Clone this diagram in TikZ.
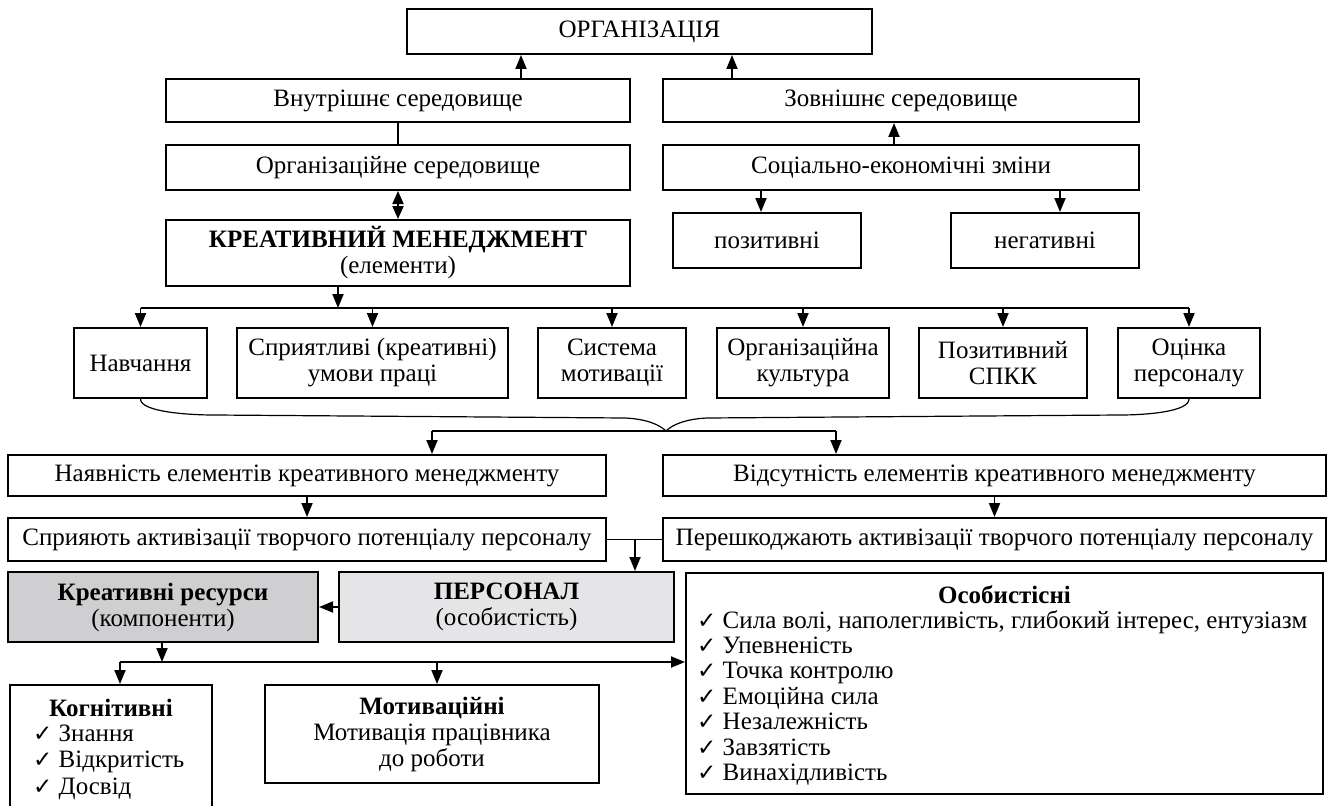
\documentclass[tikz,border=0pt]{standalone}
\usepackage{fontspec}
\setmainfont{Liberation Serif}
\newfontfamily\symf{DejaVu Sans}
\usetikzlibrary{arrows.meta}
\definecolor{grA}{RGB}{207,207,209}
\definecolor{grB}{RGB}{229,229,231}
\newcommand{\ck}{{\symf\fontsize{23}{23}\selectfont ✓}}
\begin{document}
\begin{tikzpicture}[x=1pt,y=-1pt,
  every node/.style={font=\fontsize{25}{26}\selectfont},
  box/.style={draw, line width=2pt, inner sep=0pt, align=center},
  arr/.style={line width=1.9pt, -{Triangle[length=14pt,width=11pt]}},
  darr/.style={line width=1.9pt, {Triangle[length=13pt,width=11pt]}-{Triangle[length=13pt,width=11pt]}},
  ln/.style={line width=1.9pt},
  txt/.style={inner sep=0pt, anchor=base}]
\useasboundingbox (0,0) rectangle (1329,805);
\fill[white] (0,0) rectangle (1329,805);

% top part
\node[box, minimum width=465pt, minimum height=45pt] (org) at (639.5,31.5) {ОРГАНІЗАЦІЯ};
\node[box, minimum width=464pt, minimum height=43pt] (vnut) at (398,100.5) {Внутрішнє середовище};
\node[box, minimum width=476pt, minimum height=43pt] (zovn) at (901,100.5) {Зовнішнє середовище};
\node[box, minimum width=464pt, minimum height=45pt] (orgsr) at (398,167.5) {Організаційне середовище};
\node[box, minimum width=476pt, minimum height=45pt] (soc) at (901,167.5) {Соціально-економічні зміни};
\node[box, minimum width=464pt, minimum height=66pt] (km) at (398,253) {\textbf{КРЕАТИВНИЙ МЕНЕДЖМЕНТ}\\(елементи)};
\node[box, minimum width=188pt, minimum height=55pt] (poz) at (767,240.5) {позитивні};
\node[box, minimum width=188pt, minimum height=55pt] (neg) at (1045,240.5) {негативні};

\coordinate (xa) at (521,0);
\coordinate (xb) at (732,0);
\coordinate (xc) at (894,0);
\coordinate (xd) at (761,0);
\coordinate (xe) at (1060,0);
\draw[arr] (vnut.north -| xa) -- (org.south -| xa);
\draw[arr] (zovn.north -| xb) -- (org.south -| xb);
\draw[ln] (vnut.south) -- (orgsr.north);
\draw[darr] (orgsr.south) -- (km.north);
\draw[arr] (soc.north -| xc) -- (zovn.south -| xc);
\draw[arr] (soc.south -| xd) -- (poz.north -| xd);
\draw[arr] (soc.south -| xe) -- (neg.north -| xe);

% elements row
\node[box, minimum width=133pt, minimum height=70pt] (nav) at (140.5,363) {Навчання};
\node[box, minimum width=271pt, minimum height=70pt] (spr) at (372.5,363) {Сприятливі (креативні)\\умови праці};
\node[box, minimum width=148pt, minimum height=70pt] (sys) at (612,363) {Система\\мотивації};
\node[box, minimum width=172pt, minimum height=70pt] (ork) at (803,363) {Організаційна\\культура};
\node[box, minimum width=168pt, minimum height=70pt] (pzk) at (1003,363) {Позитивний\\СПКК};
\node[box, minimum width=142pt, minimum height=70pt] (ots) at (1189,363) {Оцінка\\персоналу};

\coordinate (d0) at (338,308);
\draw[arr] (km.south -| d0) -- (d0);
\draw[ln] (nav.north |- d0) -- (ots.north |- d0);
\foreach \n in {nav,spr,sys,ork,pzk,ots}
  \draw[arr] (\n.north |- d0) -- (\n.north);

% brace
\coordinate (bt) at (666,431);
\draw[line width=1.2pt] (nav.south) .. controls +(0,13) and +(-25,0) .. (214,415) -- (625,418) .. controls +(22,1) and +(-6,-6) .. (bt);
\draw[line width=1.2pt] (ots.south) .. controls +(0,13) and +(25,0) .. (1120,415) -- (707,418) .. controls +(-22,1) and +(6,-6) .. (bt);
\coordinate (bl) at (432,431);
\coordinate (br) at (836,431);

% presence / absence
\node[box, minimum width=598pt, minimum height=41pt] (nay) at (307,475.5) {Наявність елементів креативного менеджменту};
\node[box, minimum width=663pt, minimum height=41pt] (vid) at (994.5,475.5) {Відсутність елементів креативного менеджменту};
\node[box, minimum width=598pt, minimum height=43pt] (spry) at (307,539.5) {Сприяють активізації творчого потенціалу персоналу};
\node[box, minimum width=663pt, minimum height=43pt] (pere) at (994.5,539.5) {Перешкоджають активізації творчого потенціалу персоналу};

\draw[ln] (bl) -- (br);
\draw[arr] (bl) -- (bl |- nay.north);
\draw[arr] (br) -- (br |- vid.north);
\draw[arr] (nay.south) -- (spry.north);
\draw[arr] (vid.south) -- (pere.north);

% resources / personnel
\node[box, fill=grA, minimum width=310pt, minimum height=70pt] (kr) at (163,607) {\textbf{Креативні ресурси}\\(компоненти)};
\node[box, fill=grB, minimum width=335pt, minimum height=70pt] (pers) at (506.5,607) {\textbf{ПЕРСОНАЛ}\\(особистість)};
\node[box, minimum width=637pt, minimum height=221pt] (os) at (1004.5,683.5) {};

\draw[ln] (spry.east) -- (pere.west);
\coordinate (c1) at (635,539.5);
\draw[arr] (c1) -- (c1 |- pers.north);
\draw[arr] (pers.west) -- (kr.east);

% components
\node[box, minimum width=202pt, minimum height=140pt] (kog) at (111,755) {};
\node[box, minimum width=334pt, minimum height=98pt] (mot) at (432,734) {\textbf{Мотиваційні}\\Мотивація працівника\\до роботи};

\coordinate (k0) at (162,662);
\coordinate (k1) at (120,662);
\coordinate (k2) at (437,662);
\draw[arr] (kr.south -| k0) -- (k0);
\draw[arr] (k1) -- (os.west |- k1);
\draw[arr] (k1) -- (k1 |- kog.north);
\draw[arr] (k2) -- (k2 |- mot.north);

\node[txt] (kogh) at (111,716) {\textbf{Когнітивні}};
\node[txt, anchor=base west] (kog1) at (33,741) {\ck\ Знання};
\node[txt, anchor=base west] (kog2) at (33,767.5) {\ck\ Відкритість};
\node[txt, anchor=base west] (kog3) at (33,794) {\ck\ Досвід};

\node[txt] (osh) at (1004.5,603) {\textbf{Особистісні}};
\foreach \t [count=\i] in {{Сила волі, наполегливість, глибокий інтерес, ентузіазм},Упевненість,Точка контролю,Емоційна сила,Незалежність,Завзятість,Винахідливість}
  \node[txt, anchor=base west] (os\i) at (697,{628+25.4*(\i-1)}) {\ck\ \t};
\end{tikzpicture}
\end{document}
